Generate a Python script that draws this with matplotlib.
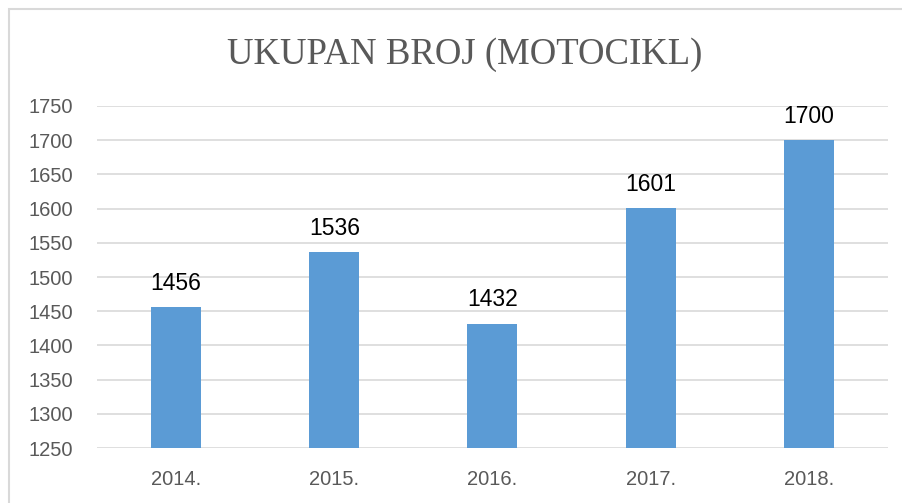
import matplotlib.pyplot as plt
from matplotlib.patches import Rectangle

years = ["2014.", "2015.", "2016.", "2017.", "2018."]
counts = [1456, 1536, 1432, 1601, 1700]
y_ticks = [1250, 1300, 1350, 1400, 1450, 1500, 1550, 1600, 1650, 1700, 1750]

fig = plt.figure(figsize=(9.03, 5.03), dpi=100, facecolor='white')
ax = fig.add_axes([0.1074, 0.1093, 0.876, 0.68])

x = list(range(len(years)))
ax.bar(x, [c - y_ticks[0] for c in counts], bottom=y_ticks[0], width=0.316,
       color='#5B9BD5', zorder=3)

for xi, c in zip(x, counts):
    ax.annotate(str(c), (xi, c), xytext=(0, 12.5), textcoords='offset points',
                ha='center', va='baseline', fontsize=16.5, color='black',
                family='Liberation Sans')

ax.set_xlim(-0.5, len(years) - 0.5)
ax.set_ylim(y_ticks[0], y_ticks[-1])
ax.set_yticks(y_ticks)
ax.set_xticks(x)
ax.set_xticklabels(years)
ax.grid(axis='y', color='#D9D9D9', linewidth=1.2, zorder=0)
for s in ax.spines.values():
    s.set_visible(False)
ax.tick_params(length=0, labelsize=14.5, labelcolor='#595959')
ax.tick_params(axis='y', pad=17)
ax.tick_params(axis='x', pad=16)
for lbl in ax.get_xticklabels() + ax.get_yticklabels():
    lbl.set_family('Liberation Sans')

fig.text(0.515, 1 - 64 / 503, "UKUPAN BROJ (MOTOCIKL)", ha='center', va='baseline',
         fontsize=26.5, color='#595959', family='Liberation Serif')

# chart border (cut off at right and bottom like the source)
fig.patches.append(Rectangle((9 / 903, -0.1), 1.1, 1 - 9 / 503 + 0.1,
                             transform=fig.transFigure, fill=False,
                             edgecolor='#D9D9D9', linewidth=1.5))

fig.savefig('out.png', dpi=100, facecolor='white')
